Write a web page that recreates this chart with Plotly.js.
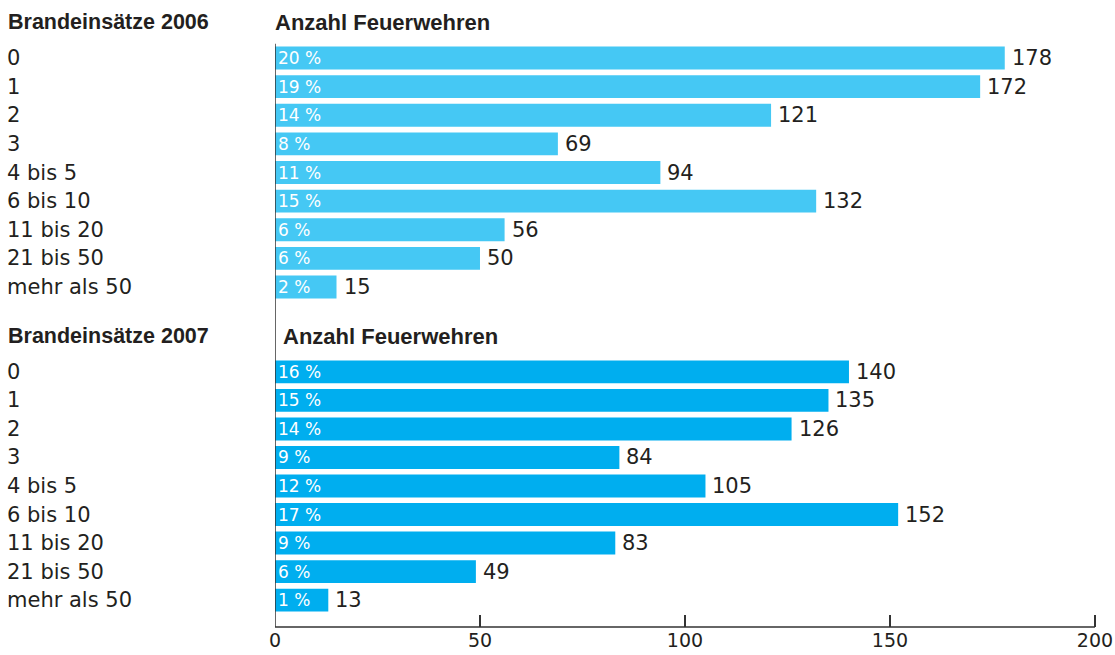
<!DOCTYPE html>
<html>
<head>
<meta charset="utf-8">
<script src="https://cdn.plot.ly/plotly-3.0.1.min.js"></script>
<style>html,body{margin:0;padding:0;background:#fff;}#chart{width:1115px;height:655px;}</style>
</head>
<body>
<div id="chart"></div>
<script>
const categories = ['0','1','2','3','4 bis 5','6 bis 10','11 bis 20','21 bis 50','mehr als 50'];
const values2006 = [178,172,121,69,94,132,56,50,15];
const pct2006 = ['20 %','19 %','14 %','8 %','11 %','15 %','6 %','6 %','2 %'];
const values2007 = [140,135,126,84,105,152,83,49,13];
const pct2007 = ['16 %','15 %','14 %','9 %','12 %','17 %','9 %','6 %','1 %'];
const groupTitles = ['Brandeinsätze 2006','Brandeinsätze 2007'];
const valueTitle = 'Anzahl Feuerwehren';
const xTicks = [0,50,100,150,200];

const textColor = '#231F20';
const regFont = 'DejaVu Sans';
const boldFont = 'Liberation Sans';

function barTrace(vals, pct, color, yaxis){
  return {
    type:'bar', orientation:'h', x: vals, y: categories, yaxis: yaxis, xaxis:'x',
    marker:{color: color}, text: pct, textposition:'inside', insidetextanchor:'start',
    constraintext:'none', cliponaxis:false,
    textfont:{family: regFont, size:17, color:'#ffffff'}, hoverinfo:'none', showlegend:false
  };
}

const data = [
  barTrace(values2006, pct2006, '#45C8F4', 'y'),
  barTrace(values2007, pct2007, '#00AEEF', 'y2')
];

const plotW = 822;
const annotations = [];
function addGroupLabels(vals, yref){
  categories.forEach((c,i)=>{
    annotations.push({xref:'paper', yref: yref, x: -270/plotW, y: c, text: c, showarrow:false,
      xanchor:'left', yanchor:'middle', font:{family: regFont, size:21, color:textColor}});
    annotations.push({xref:'x', yref: yref, x: vals[i], y: c, text: String(vals[i]), showarrow:false,
      xanchor:'left', yanchor:'middle', xshift:5, font:{family: regFont, size:21, color:textColor}});
  });
}
addGroupLabels(values2006, 'y');
addGroupLabels(values2007, 'y2');

const headerY = [(627-22)/627, (627-336)/627];
const headerX = [-2/plotW, 6/plotW];
[0,1].forEach(k=>{
  annotations.push({xref:'paper', yref:'paper', x:-269/plotW, y: headerY[k], text:'<b>'+groupTitles[k]+'</b>',
    showarrow:false, xanchor:'left', yanchor:'middle', font:{family: boldFont, size:21.5, color:textColor}});
  annotations.push({xref:'paper', yref:'paper', x: headerX[k], y: headerY[k], text:'<b>'+valueTitle+'</b>',
    showarrow:false, xanchor:'left', yanchor:'middle', font:{family: boldFont, size:22, color:textColor}});
});

const layout = {
  width:1115, height:655,
  margin:{l:275, r:18, t:0, b:28},
  paper_bgcolor:'#ffffff', plot_bgcolor:'#ffffff',
  bargap:0.2,
  xaxis:{anchor:'y2', range:[0,200.5], tickvals: xTicks, ticktext: xTicks.map(String),
    showgrid:false, zeroline:false, showline:false,
    ticks:'inside', ticklen:12, tickwidth:1.5, tickcolor:'#333333', ticklabeloverflow:'allow',
    tickfont:{family: regFont, size:19, color:textColor}, fixedrange:true},
  yaxis:{domain:[(627-301.3)/627, (627-43.7)/627], type:'category', categoryarray: categories,
    range:[8.5,-0.5], showticklabels:false, showgrid:false, zeroline:false, showline:false, ticks:''},
  yaxis2:{domain:[0, (627-357.7)/627], type:'category', categoryarray: categories,
    range:[8.5+(627-614.3)/28.5,-0.5], showticklabels:false, showgrid:false, zeroline:false, showline:false, ticks:''},
  shapes:[
    {type:'line', xref:'x', yref:'paper', x0:0, x1:0, y0:0, y1:(627-43.7)/627, line:{color:'#333333', width:1.5}},
    {type:'line', xref:'x', yref:'paper', x0:0, x1:200, y0:0, y1:0, line:{color:'#333333', width:1.5}}
  ],
  annotations: annotations
};

Plotly.newPlot('chart', data, layout, {displayModeBar:false, staticPlot:true});
</script>
</body>
</html>
